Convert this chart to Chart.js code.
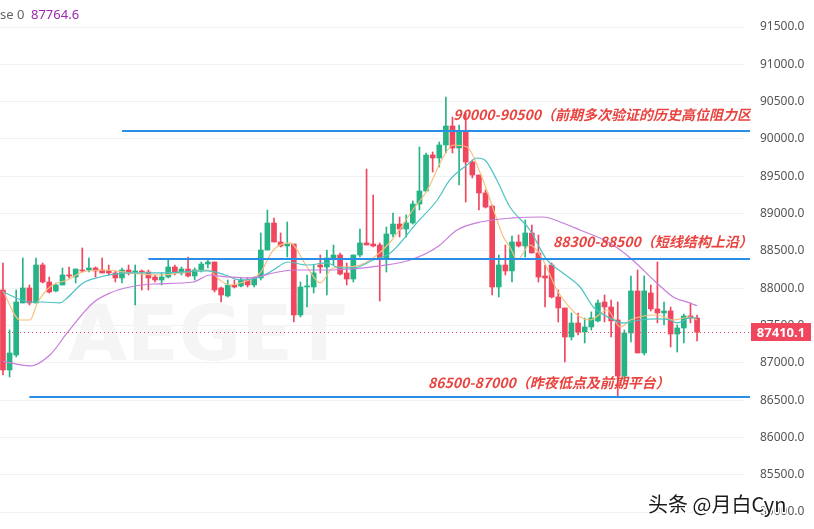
<!DOCTYPE html>
<html><head><meta charset="utf-8">
<script src="https://cdn.jsdelivr.net/npm/chart.js@4/dist/chart.umd.min.js"></script>
<style>html,body{margin:0;padding:0;background:#fff;overflow:hidden}canvas{display:block}</style>
</head><body>
<canvas id="c" width="814" height="529"></canvas>
<script>
// ---- candle data (index = bar number) ----
const opens = [87976,86904,87105,87802,88003,87802,88311,88083,87963,88043,
88177,88150,88244,88244,88271,88244,88231,88204,88137,88244,
88217,88231,88217,88150,88110,88150,88284,88204,88257,88164,
88244,88324,88351,88003,87896,88043,88030,88110,88043,88137,
88512,88874,88619,88566,88592,87641,88016,88016,88311,88284,
88405,88445,88204,88123,88445,88606,88592,88579,88405,88726,
88860,88793,88874,89128,89303,89785,89745,89919,90174,89879,
90093,89691,89517,89276,89102,88016,88311,88231,88619,88566,
88740,88472,88164,88311,87882,87735,87346,87534,87413,87480,
87561,87815,87748,87574,86824,87400,87963,87132,87936,87722,
87668,87695,87386,87467,87628,87601];
const highs = [88338,87440,87976,88405,88043,88405,88338,88150,88070,88271,
88284,88257,88539,88405,88284,88405,88311,88231,88271,88311,
88311,88244,88244,88177,88204,88378,88311,88284,88418,88271,
88351,88391,88351,88016,88110,88110,88137,88137,88150,88740,
89048,88941,88740,88887,88592,88083,88177,88311,88445,88512,
88579,88472,88338,88445,88793,89597,89249,88606,88820,89008,
88954,88981,89169,89892,89812,89825,89959,90562,90294,90187,
90348,89718,89517,89316,89115,88445,88579,88700,88713,88914,
88847,88713,88311,88338,87976,87735,87668,87668,87601,87682,
87842,87909,87842,87815,87440,88163,88244,88163,88043,88351,
87815,87748,87507,87654,87802,87641];
const lows = [86837,86810,87078,87802,87775,87802,88070,87936,87949,88043,
88137,88070,88217,88217,88150,88204,88177,88083,88070,88177,
87775,87976,87976,88083,88043,88137,88177,88177,88150,88110,
88217,88271,87949,87815,87882,88003,88016,88016,88016,88110,
88512,88619,88552,88418,87547,87614,87748,87936,88204,87909,
88311,88177,88043,88083,88418,88579,88552,87829,88217,88686,
88686,88686,88860,89048,89289,89557,89624,89812,89812,89383,
89155,89477,89048,89075,87909,87882,88177,88083,88552,88418,
88472,88083,87748,87869,87547,87011,87306,87373,87266,87440,
87547,87547,87346,86542,86770,87279,87132,87105,87695,87534,
87507,87212,87145,87266,87534,87292];
const closes = [86904,87132,87815,88003,87802,88311,88083,87949,88043,88177,
88164,88257,88231,88271,88231,88204,88204,88137,88244,88204,
88231,88217,88137,88110,88150,88284,88204,88257,88164,88244,
88324,88351,87976,87909,88043,88016,88110,88043,88137,88512,
88874,88619,88566,88592,87641,88016,88030,88204,88284,88405,
88445,88190,88123,88445,88606,88579,88566,88405,88726,88860,
88793,88874,89128,89303,89785,89745,89919,90174,89879,90093,
89691,89517,89276,89088,88016,88311,88231,88619,88566,88740,
88472,88150,88137,87882,87735,87346,87534,87413,87480,87601,
87802,87748,87561,86824,87400,87963,87132,87963,87722,87668,
87695,87386,87467,87628,87601,87410.1];

// ---- moving averages (bar index, price) ----
const maFastIdx = [0,2.6,4.1,5.2,7.1,9.7,12.1,15.7,19.2,23.8,31,32.8,34.3,35.9,38.9,40.9,43.4,46,48,49.9,52,54,56,58.6,62,64.2,66.6,68.1,70.2,72.2,73.7,75.7,76.7,77.8,79.7,81.7,83.8,85.8,87.3,88.8,91.4,93.4,94.9,98.9,101.4,103.9,105];
const maFastVal = [87963,87574,87574,87802,88016,88110,88217,88244,88204,88177,88244,88110,88043,88070,88204,88512,88606,88284,88070,88271,88284,88311,88405,88619,89048,89316,89758,89919,89892,89544,89182,88686,88552,88378,88579,88378,87976,87735,87614,87574,87708,87480,87574,87641,87574,87614,87574];
const maMidIdx = [0,4.1,6.1,8.6,9.7,12.1,14.7,19.2,23.8,31,33.6,35.9,38.9,40.9,43.1,46,49,51,53,56,58.6,62.6,65.7,67.6,70.2,71.7,72.9,74.7,76.7,79.7,82.3,84.7,87.3,89.3,91.8,93.8,96.4,98.9,100.9,102,103.9,105];
const maMidVal = [87949,87815,87815,87802,87869,88070,88150,88204,88204,88231,88177,88110,88150,88244,88351,88311,88338,88271,88271,88378,88472,88874,89182,89450,89651,89745,89718,89450,89088,88780,88378,88204,88016,87748,87601,87534,87574,87588,87574,87534,87601,87601];
const maSlowIdx = [0,4.1,7.1,9.7,13.6,16.2,19.2,22.7,28.8,31.3,32.4,37.4,40.9,43.9,49,52.5,57,61.6,65.7,68.7,72.2,77.2,81.7,84.7,87.3,91.8,94.9,98.9,101.4,103.9,105];
const maSlowVal = [87020,86958,87105,87400,87802,87936,88016,88056,88083,88177,88164,88137,88204,88244,88244,88257,88298,88378,88552,88780,88887,88941,88954,88874,88780,88606,88405,88070,87882,87802,87764.6];

// ---- axis ticks ----
const tickValues = [85000,85500,86000,86500,87000,87500,88000,88500,89000,89500,90000,90500,91000,91500];

// ---- levels and notes ----
const levelPrices = [90106, 88391, 86542];
const levelStartIdx = [18, 22, 4];
const noteTexts = ['90000-90500（前期多次验证的历史高位阻力区', '88300-88500（短线结构上沿）', '86500-87000（昨夜低点及前期平台）'];
const noteIdx = [68.1, 83.2, 64.3];
const notePrice = [90254, 88552, 86663];
const legendPrefix = 'se 0';
const legendValue = '87764.6';
const lastPrice = 87410.1;

const UP = '#26b487', DOWN = '#f0465e';
const idx = opens.map((_, i) => i);
const candleColors = idx.map(i => closes[i] >= opens[i] ? UP : DOWN);

const overlay = {
  id: 'overlay',
  beforeDatasetsDraw(chart) {
    const ctx = chart.ctx;
    ctx.save();
    ctx.fillStyle = '#f5f5f5';
    ctx.font = 'bold 76px "DejaVu Sans"';
    ctx.textBaseline = 'alphabetic';
    ctx.fillText('AEGET', 68, 360);
    ctx.restore();
  },
  afterDatasetsDraw(chart) {
    const ctx = chart.ctx, xs = chart.scales.x, ys = chart.scales.y, a = chart.chartArea;
    ctx.save();
    ctx.strokeStyle = '#2a8de6';
    ctx.lineWidth = 2;
    levelPrices.forEach((p, k) => {
      const y = Math.round(ys.getPixelForValue(p));
      ctx.beginPath();
      ctx.moveTo(xs.getPixelForValue(levelStartIdx[k]), y);
      ctx.lineTo(a.right + 5, y);
      ctx.stroke();
    });
    const ly = Math.round(ys.getPixelForValue(lastPrice)) + 0.5;
    ctx.strokeStyle = DOWN;
    ctx.lineWidth = 1;
    ctx.setLineDash([1, 3]);
    ctx.beginPath();
    ctx.moveTo(a.left, ly);
    ctx.lineTo(a.right + 6, ly);
    ctx.stroke();
    ctx.setLineDash([]);
    ctx.beginPath();
    ctx.rect(0, 0, a.right + 6, chart.height);
    ctx.clip();
    ctx.fillStyle = '#e9433f';
    ctx.font = 'italic bold 14px "Noto Sans CJK SC"';
    ctx.textBaseline = 'alphabetic';
    noteTexts.forEach((t, k) => {
      ctx.fillText(t, xs.getPixelForValue(noteIdx[k]), ys.getPixelForValue(notePrice[k]));
    });
    ctx.restore();
  },
  afterDraw(chart) {
    const ctx = chart.ctx, ys = chart.scales.y, a = chart.chartArea;
    ctx.save();
    const ly = ys.getPixelForValue(lastPrice);
    ctx.fillStyle = DOWN;
    ctx.fillRect(a.right + 6, Math.round(ly) - 9, 60, 18);
    ctx.fillStyle = '#fff';
    ctx.font = 'bold 13px "Noto Sans"';
    ctx.textAlign = 'center';
    ctx.textBaseline = 'middle';
    ctx.fillText(lastPrice.toFixed(1), a.right + 36, Math.round(ly) + 1);
    ctx.textAlign = 'left';
    ctx.font = '13px "Noto Sans"';
    ctx.fillStyle = '#666';
    ctx.fillText(legendPrefix, 0, 15);
    ctx.fillStyle = '#9c27b0';
    ctx.fillText(legendValue, 31, 15);
    ctx.font = '20px "Noto Sans CJK SC"';
    ctx.textBaseline = 'alphabetic';
    ctx.lineWidth = 3;
    ctx.strokeStyle = '#fff';
    ctx.strokeText('头条 @月白Cyn', 648, 512);
    ctx.fillStyle = '#1a1a1a';
    ctx.fillText('头条 @月白Cyn', 648, 512);
    ctx.restore();
  }
};

const lineDs = (xsArr, vals, color, order) => ({
  type: 'line', data: xsArr.map((x, i) => ({ x, y: vals[i] })),
  borderColor: color, borderWidth: 1.2, pointRadius: 0, fill: false,
  cubicInterpolationMode: 'monotone', order
});

new Chart(document.getElementById('c'), {
  type: 'bar',
  data: {
    datasets: [
      lineDs(maSlowIdx, maSlowVal, '#c77ddb', 0),
      lineDs(maMidIdx, maMidVal, '#4cc2c4', 0),
      lineDs(maFastIdx, maFastVal, '#f6c07c', 0),
      { type: 'bar', data: idx.map(i => ({ x: i, y: [lows[i], highs[i]] })), backgroundColor: candleColors,
        barThickness: 1, grouped: false, borderWidth: 0, order: 2 },
      { type: 'bar', data: idx.map(i => ({ x: i, y: [Math.min(opens[i], closes[i]), Math.max(opens[i], closes[i])] })),
        backgroundColor: candleColors, barThickness: 5, minBarLength: 1, grouped: false, borderWidth: 0, order: 1 }
    ]
  },
  options: {
    responsive: false, animation: false,
    layout: { padding: 0 },
    plugins: { legend: { display: false }, tooltip: { enabled: false } },
    scales: {
      x: { type: 'linear', min: -0.45, max: 112.25, offset: false, display: false },
      y: {
        position: 'right', min: 84773, max: 91862,
        grid: { color: '#f1f1f1', drawTicks: false },
        border: { display: false },
        ticks: { color: '#555', padding: 15,
          font: { size: 12, family: 'Noto Sans' }, callback: v => v.toFixed(1) },
        afterBuildTicks: s => { s.ticks = tickValues.map(v => ({ value: v })); },
        afterFit: s => { s.width = 69; s.paddingTop = 0; s.paddingBottom = 0; }
      }
    }
  },
  plugins: [overlay]
});
</script>
</body></html>
